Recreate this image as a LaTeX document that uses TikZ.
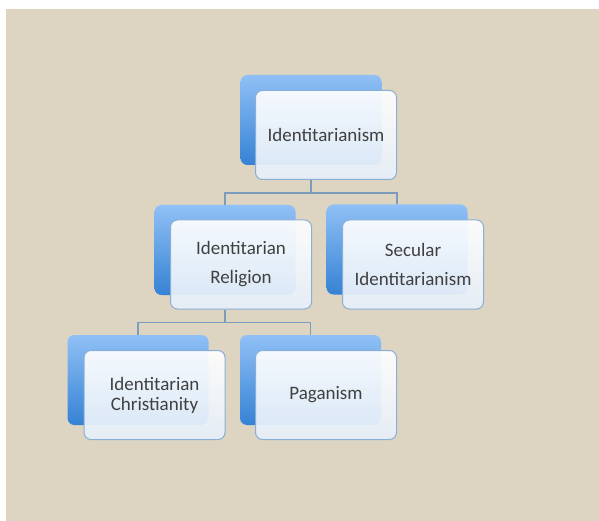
\documentclass[tikz,border=0pt]{standalone}
\usepackage{fontspec}
\setmainfont{Carlito}
\definecolor{bgc}{HTML}{DDD5C2}
\definecolor{blueTop}{HTML}{90C0F6}
\definecolor{blueBot}{HTML}{3582D4}
\definecolor{frontBorder}{HTML}{8AAFD6}
\definecolor{frontBot}{HTML}{E6EFF9}
\definecolor{linkc}{HTML}{7C9CBC}
\definecolor{txt}{HTML}{404040}
\tikzset{
  backbox/.style={rectangle, rounded corners=7pt, minimum width=141pt, minimum height=90pt,
    top color=blueTop, bottom color=blueBot, draw=none, inner sep=0pt},
  frontbox/.style={rectangle, rounded corners=7pt, minimum width=141pt, minimum height=89pt,
    top color=white, bottom color=frontBot, draw=frontBorder, line width=1pt,
    fill opacity=0.92, text opacity=1, inner sep=0pt, align=center, text=txt,
    font=\fontsize{19}{29}\selectfont},
  link/.style={draw=linkc, line width=1.2pt}
}
\begin{document}
\begin{tikzpicture}[x=1pt,y=-1pt]
\useasboundingbox (0,0) rectangle (599,521);
\fill[bgc] (6,9) rectangle (599,521);
% top
\node[backbox] (tb) at (311,120) {};
\node[frontbox] (tf) at (326,135) {Identitarianism};
% row 2
\node[backbox] (lb) at (225,250) {};
\node[frontbox] (lf) at (241,264.5) {Identitarian\\Religion};
\node[backbox] (rb) at (397,249.5) {};
\node[frontbox] (rf) at (413,264.5) {Secular\\Identitarianism};
% row 3
\node[backbox] (cb) at (138,380) {};
\node[frontbox, font=\fontsize{19}{20}\selectfont] (cf) at (154.5,395) {Identitarian\\Christianity};
\node[backbox] (pb) at (310.5,380) {};
\node[frontbox] (pf) at (326,395) {Paganism};
% connectors
\coordinate (t0) at (tb |- tf.south);
\draw[link] (t0) -- ++(0,13) -| (lb.north);
\draw[link] (t0) -- ++(0,13) -| (rb.north);
\coordinate (l0) at (lb |- lf.south);
\draw[link] (l0) -- ++(0,13) -| (cb.north);
\draw[link] (l0) -- ++(0,13) -| (pb.north);
\end{tikzpicture}
\end{document}
